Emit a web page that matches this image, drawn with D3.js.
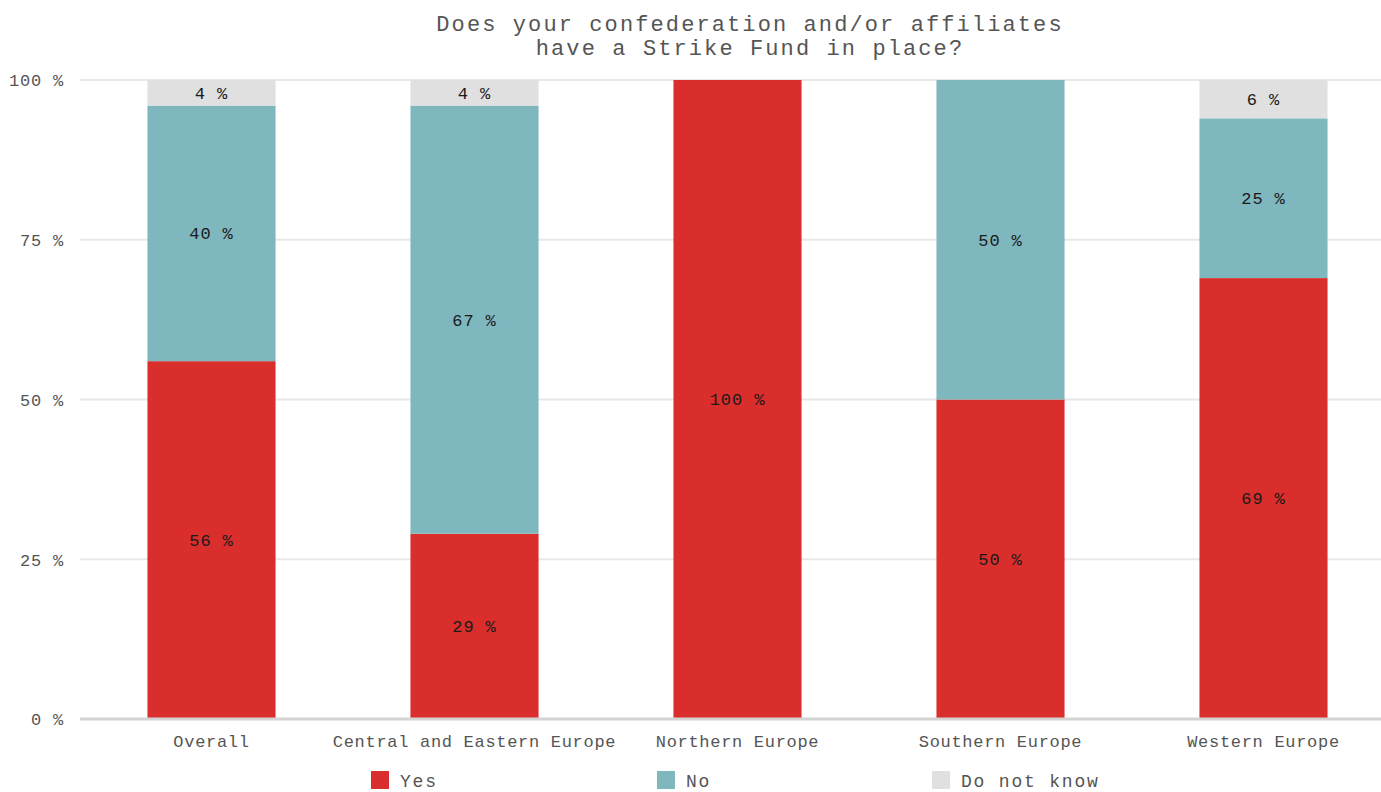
<!DOCTYPE html>
<html>
<head>
<meta charset="utf-8">
<script src="https://cdn.jsdelivr.net/npm/d3@7"></script>
<style>
  html, body { margin: 0; padding: 0; background: #ffffff; }
  svg { display: block; font-family: "Liberation Mono", "DejaVu Sans Mono", monospace; }
</style>
</head>
<body>
<svg id="chart" width="1381" height="792"></svg>
<script>
// Survey answers per region, in percent
const categories = ["Overall", "Central and Eastern Europe", "Northern Europe", "Southern Europe", "Western Europe"];
const yesValues = [56, 29, 100, 50, 69];
const noValues = [40, 67, 0, 50, 25];
const dontKnowValues = [4, 4, 0, 0, 6];
const seriesNames = ["Yes", "No", "Do not know"];
const yTicks = [0, 25, 50, 75, 100];
const titleLines = ["Does your confederation and/or affiliates", "have a Strike Fund in place?"];

const colors = { "Yes": "#d92e2c", "No": "#7fb7bf", "Do not know": "#e0e0e0" };

const svg = d3.select("#chart");
const chartW = 1381;
const plotLeft = 80, plotRight = 1395, plotTop = 80, plotBottom = 719;

const rows = categories.map((c, i) => ({
  category: c,
  "Yes": yesValues[i],
  "No": noValues[i],
  "Do not know": dontKnowValues[i]
}));

const stack = d3.stack().keys(seriesNames);
const layers = stack(rows);

const x = d3.scaleBand()
  .domain(categories)
  .range([plotLeft, plotRight])
  .paddingInner(0.513)
  .paddingOuter(0.2565);

const y = d3.scaleLinear().domain([0, 100]).range([plotBottom, plotTop]);

// Title
svg.append("g")
  .selectAll("text")
  .data(titleLines)
  .join("text")
  .attr("x", 750)
  .attr("y", (d, i) => 31 + i * 24)
  .attr("text-anchor", "middle")
  .attr("font-size", 22)
  .attr("letter-spacing", 2.1)
  .attr("fill", "#555")
  .text(d => d);

// Horizontal grid
svg.append("g")
  .selectAll("line")
  .data(yTicks.filter(t => t > 0))
  .join("line")
  .attr("x1", plotLeft)
  .attr("x2", chartW)
  .attr("y1", d => y(d))
  .attr("y2", d => y(d))
  .attr("stroke", "#e8e8e8")
  .attr("stroke-width", 2);

// Y tick labels
const yAxis = svg.append("g")
  .attr("transform", `translate(${plotLeft - 13},0)`)
  .call(d3.axisLeft(y).tickValues(yTicks).tickSize(0).tickFormat(d => d + " %"));
yAxis.select(".domain").remove();
yAxis.selectAll("text")
  .attr("font-family", "Liberation Mono, DejaVu Sans Mono, monospace")
  .attr("font-size", 17)
  .attr("letter-spacing", 0.8)
  .attr("fill", "#555")
  .attr("dy", "0.35em");

// Stacked bars
const barG = svg.append("g");
layers.forEach(layer => {
  barG.append("g")
    .attr("fill", colors[layer.key])
    .selectAll("rect")
    .data(layer.filter(d => d[1] - d[0] > 0))
    .join("rect")
    .attr("x", d => x(d.data.category))
    .attr("width", x.bandwidth())
    .attr("y", d => y(d[1]))
    .attr("height", d => y(d[0]) - y(d[1]));
});

// Value labels, centred in each segment
const labelG = svg.append("g");
layers.forEach(layer => {
  labelG.append("g")
    .selectAll("text")
    .data(layer.filter(d => d[1] - d[0] > 0))
    .join("text")
    .attr("x", d => x(d.data.category) + x.bandwidth() / 2)
    .attr("y", d => y((d[0] + d[1]) / 2))
    .attr("dy", "0.35em")
    .attr("text-anchor", "middle")
    .attr("font-size", 17)
    .attr("letter-spacing", 0.9)
    .attr("fill", "#1a1a1a")
    .text(d => (d[1] - d[0]) + " %");
});

// Baseline and category labels
svg.append("line")
  .attr("x1", plotLeft).attr("x2", chartW)
  .attr("y1", plotBottom).attr("y2", plotBottom)
  .attr("stroke", "#d4d4d4")
  .attr("stroke-width", 3);

const xAxis = svg.append("g")
  .attr("transform", `translate(0,${plotBottom + 22})`)
  .call(d3.axisBottom(x).tickSize(0).tickPadding(0));
xAxis.select(".domain").remove();
xAxis.selectAll("text")
  .attr("font-family", "Liberation Mono, DejaVu Sans Mono, monospace")
  .attr("font-size", 17)
  .attr("letter-spacing", 0.7)
  .attr("fill", "#555")
  .attr("dy", "0.35em");

// Legend
const legendX = [371, 657, 932];
const legend = svg.append("g")
  .selectAll("g")
  .data(seriesNames)
  .join("g")
  .attr("transform", (d, i) => `translate(${legendX[i]},771)`);
legend.append("rect")
  .attr("width", 18).attr("height", 18)
  .attr("fill", d => colors[d]);
legend.append("text")
  .attr("x", 29)
  .attr("y", 10)
  .attr("dy", "0.33em")
  .attr("font-size", 18)
  .attr("letter-spacing", 1.8)
  .attr("fill", "#555")
  .text(d => d);
</script>
</body>
</html>
